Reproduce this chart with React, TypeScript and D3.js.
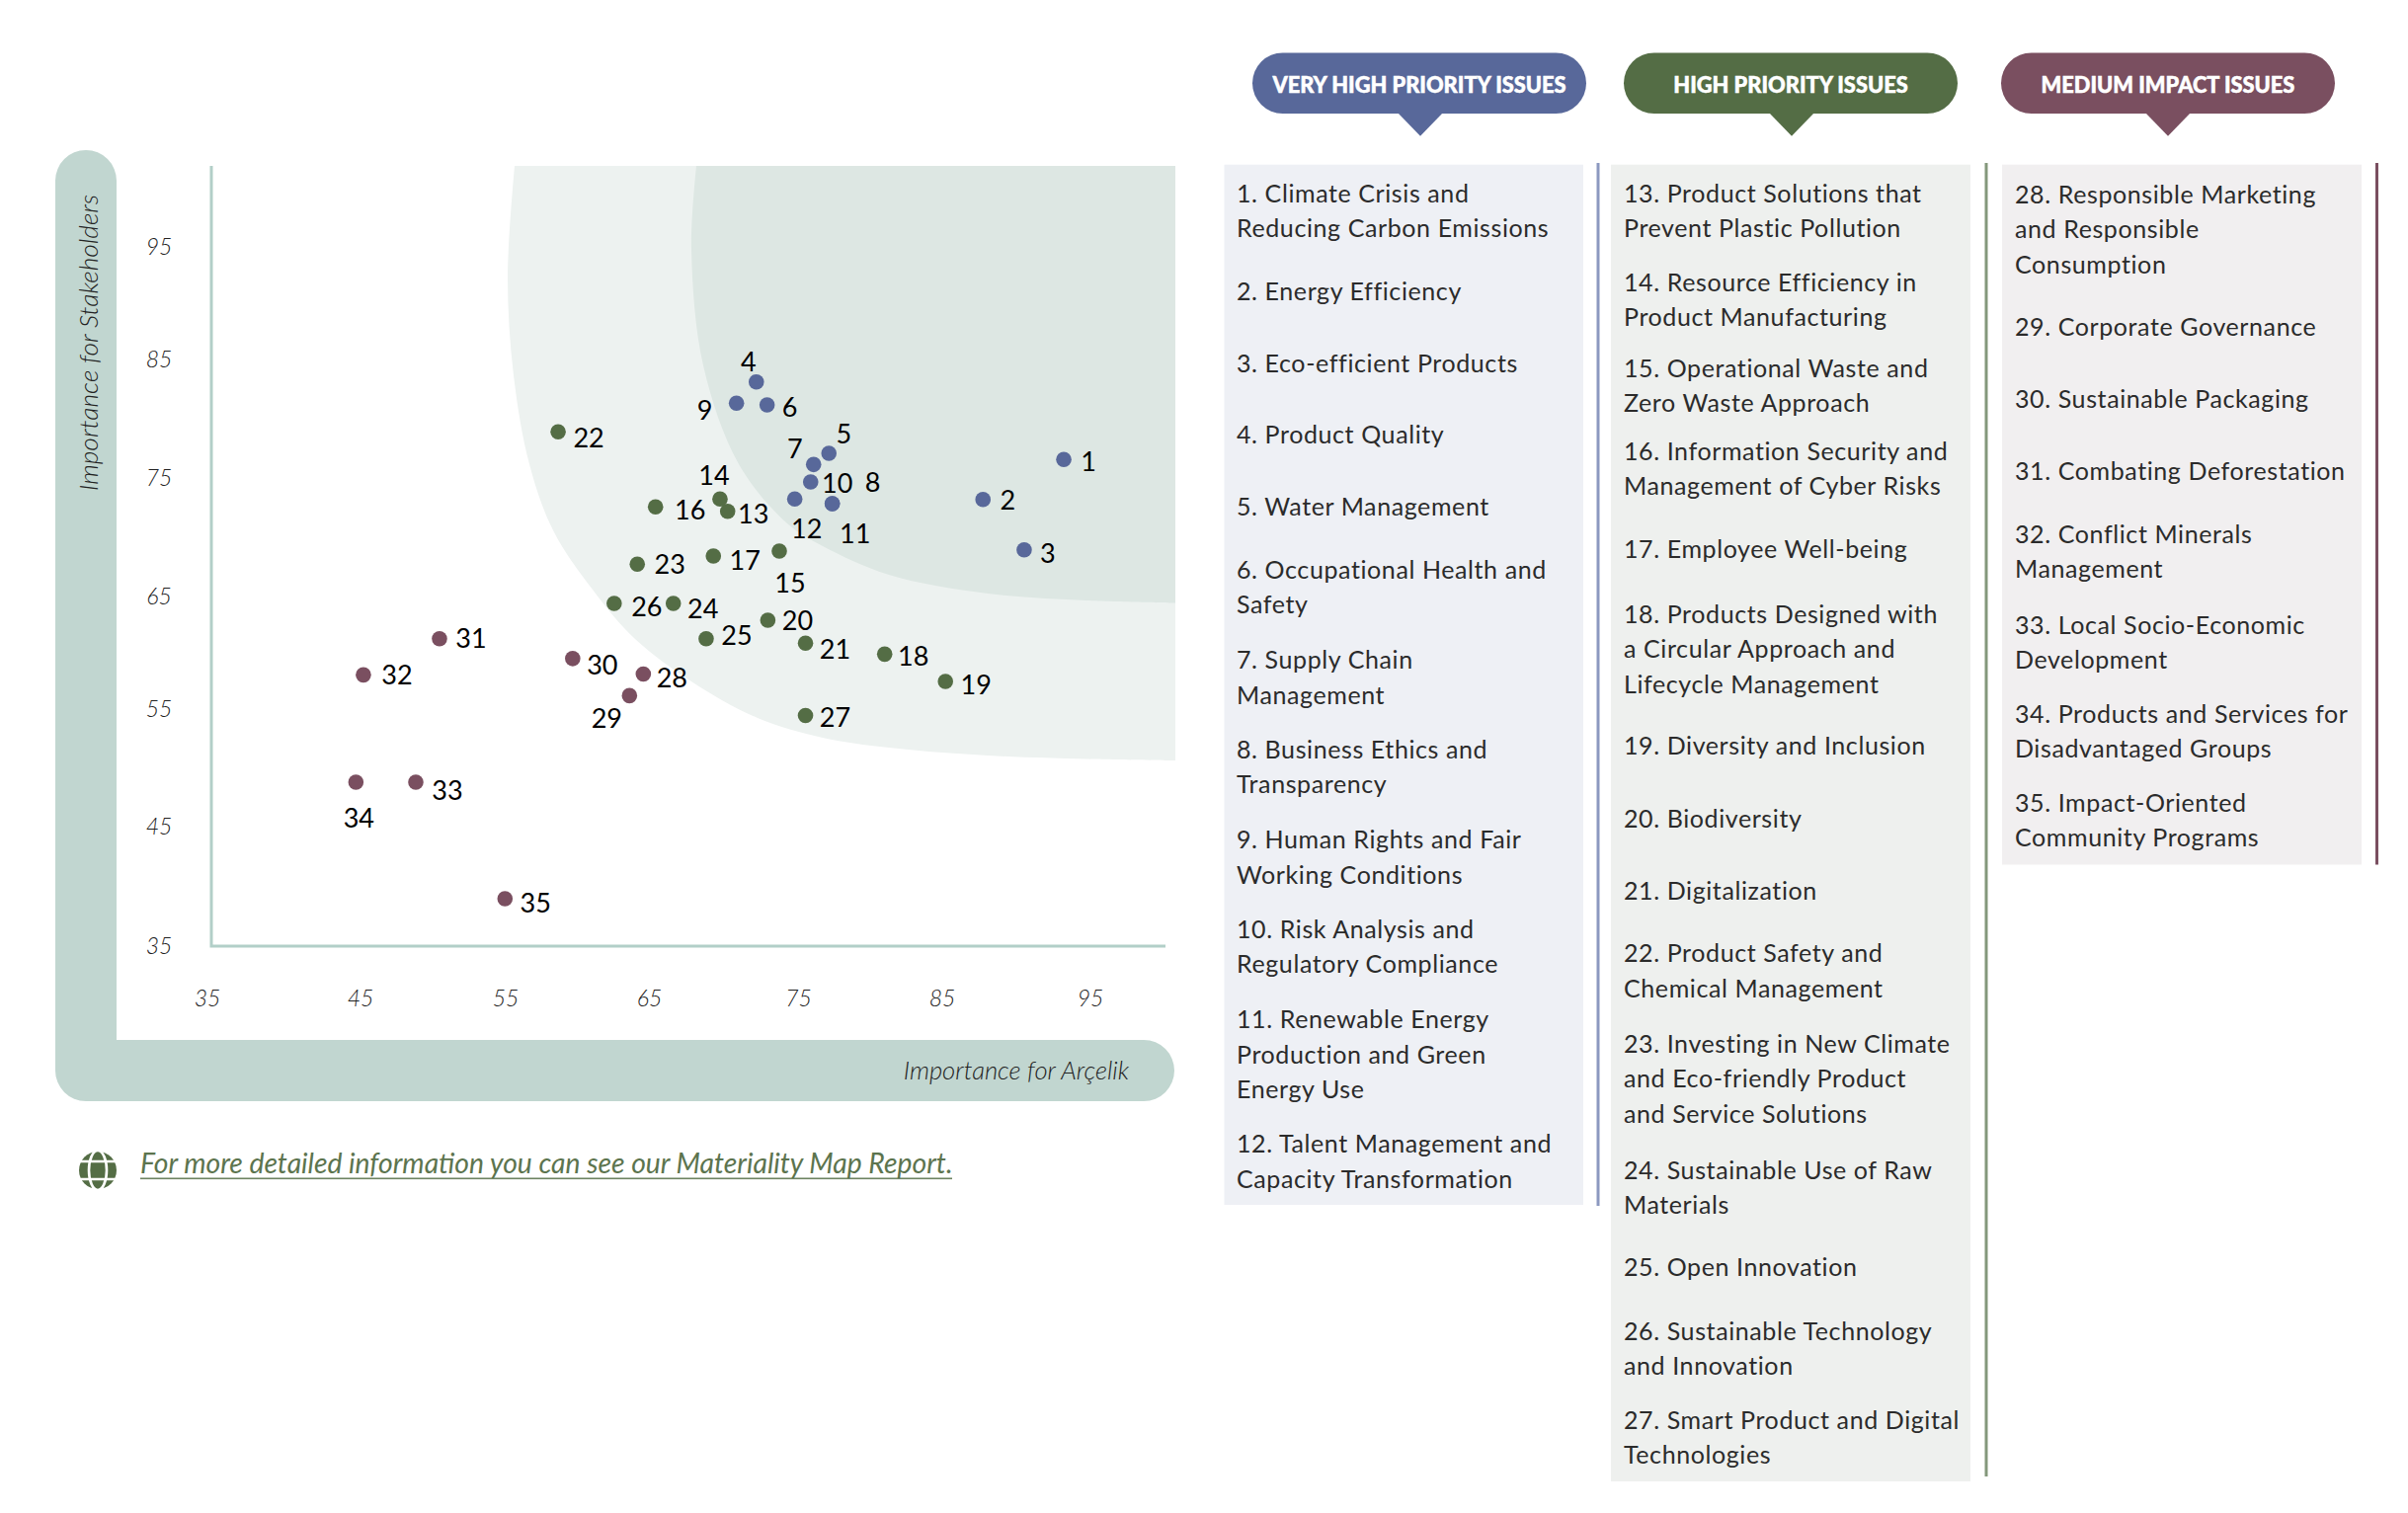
import React from "react";
import * as d3 from "d3";

const tickValues = [35, 45, 55, 65, 75, 85, 95];
const veryHighIds = [1,2,3,4,5,6,7,8,9,10,11,12];
const highIds = [13,14,15,16,17,18,19,20,21,22,23,24,25,26,27];
const mediumIds = [28,29,30,31,32,33,34,35];
const arcelikScores = [93.19,87.70,90.50,72.30,77.23,73.03,76.19,77.46,70.95,75.99,77.46,74.91,70.35,69.83,73.86,65.45,69.38,81.02,85.15,73.08,75.64,58.83,64.21,66.66,68.89,62.64,75.64,64.62,63.68,59.82,50.77,45.60,49.16,45.09,55.22];
const stakeholderScores = [76.64,73.21,68.89,83.30,77.17,81.32,76.21,72.85,81.47,74.71,72.85,73.25,72.20,73.25,68.78,72.57,68.36,59.94,57.60,62.85,60.88,79.01,67.66,64.29,61.26,64.29,54.67,58.23,56.38,59.56,61.26,58.16,48.96,48.96,38.96];

const veryHighIssues = [
  ["1. Climate Crisis and","Reducing Carbon Emissions"],["2. Energy Efficiency"],["3. Eco-efficient Products"],["4. Product Quality"],["5. Water Management"],
  ["6. Occupational Health and","Safety"],["7. Supply Chain","Management"],["8. Business Ethics and","Transparency"],["9. Human Rights and Fair","Working Conditions"],
  ["10. Risk Analysis and","Regulatory Compliance"],["11. Renewable Energy","Production and Green","Energy Use"],["12. Talent Management and","Capacity Transformation"],
];
const highIssues = [
  ["13. Product Solutions that","Prevent Plastic Pollution"],["14. Resource Efficiency in","Product Manufacturing"],["15. Operational Waste and","Zero Waste Approach"],
  ["16. Information Security and","Management of Cyber Risks"],["17. Employee Well-being"],["18. Products Designed with","a Circular Approach and","Lifecycle Management"],
  ["19. Diversity and Inclusion"],["20. Biodiversity"],["21. Digitalization"],["22. Product Safety and","Chemical Management"],
  ["23. Investing in New Climate","and Eco-friendly Product","and Service Solutions"],["24. Sustainable Use of Raw","Materials"],["25. Open Innovation"],
  ["26. Sustainable Technology","and Innovation"],["27. Smart Product and Digital","Technologies"],
];
const mediumIssues = [
  ["28. Responsible Marketing","and Responsible","Consumption"],["29. Corporate Governance"],["30. Sustainable Packaging"],["31. Combating Deforestation"],
  ["32. Conflict Minerals","Management"],["33. Local Socio-Economic","Development"],["34. Products and Services for","Disadvantaged Groups"],["35. Impact-Oriented","Community Programs"],
];
const headings = ["VERY HIGH PRIORITY ISSUES","HIGH PRIORITY ISSUES","MEDIUM IMPACT ISSUES"];

// layout, separate from the data
const veryHighRows = [194.5,294,367,438.5,511.5,575.5,667,757.5,849,939.5,1031,1157];
const highRows = [194.5,284.5,371.5,455.5,555,620.5,754,827.5,900.5,964,1055.5,1183.5,1281.5,1346.5,1436.5];
const mediumRows = [195.5,329.5,402.5,475.5,539.5,631.5,721.5,811.5];
const labelOffsets: [number,number][] = [[25,1],[25,0],[24,3],[-8,-21],[15,-21],[23,1],[-19,-17],[41,-23],[-32,6],[27,0],[23,29],[12,29],[26,2],[-6,-25],[11,31],[35,2],[32,4],[29,1],[31,3],[30,-1],[30,5],[31,5],[33,-1],[30,4],[31,-4],[33,2],[30,1],[29,3],[-23,22],[30,6],[32,-1],[34,-1],[32,8],[3,36],[31,4]];
const outerEdge: [number,number][] = [[521,168],[514,280],[520,380],[536,470],[560,537],[600,597],[643,647],[700,690],[767,727],[833,747],[900,757],[1000,765],[1100,768.5],[1190,770]];
const innerEdge: [number,number][] = [[705,168],[700,252],[712,370],[748,470],[797,530],[833,553],[900,582],[1000,601],[1100,608],[1190,610.5]];

const BLUE = "#58689a", GREEN = "#546d45", MAROON = "#7a4f60", BAND = "#c1d6d0", FONT = "Lato, sans-serif";

const x = d3.scaleLinear().domain([35,95]).range([210,1104]);
const y = d3.scaleLinear().domain([35,95]).range([956.7,248.6]);
const xTick = d3.scaleLinear().domain(tickValues).range([210,365,512,657.6,808.5,954,1104]);
const yTick = d3.scaleLinear().domain(tickValues).range([956.7,836,717,603,483,363,248.6]);
const curve = d3.line().curve(d3.curveCatmullRom.alpha(0.5));
const zone = (edge: [number,number][]) => curve(edge) + "L1190,168Z";
const colorOf = (id: number) => veryHighIds.includes(id) ? BLUE : highIds.includes(id) ? GREEN : MAROON;

const columns = [
  { issues: veryHighIssues, rows: veryHighRows, px: 1239.5, w: 363.5, bottom: 1220, tx: 1252, lineX: 1618, lineEnd: 1221, color: BLUE, panel: "#eef0f5", rule: "#8c99c0", bx: 1268, tip: 1438 },
  { issues: highIssues, rows: highRows, px: 1631, w: 364, bottom: 1500, tx: 1644, lineX: 2011, lineEnd: 1495, color: GREEN, panel: "#eef0ee", rule: "#84987b", bx: 1644, tip: 1814 },
  { issues: mediumIssues, rows: mediumRows, px: 2027, w: 364, bottom: 875.5, tx: 2040, lineX: 2406.5, lineEnd: 875.5, color: MAROON, panel: "#f1eff0", rule: "#7a4f60", bx: 2026, tip: 2195 },
];

export default function App() {
  return (
    <svg width={2438} height={1532} viewBox="0 0 2438 1532" style={{position:"absolute",left:0,top:0,display:"block",background:"#fff"}} fontFamily={FONT}>
      <path d={zone(outerEdge)!} fill="#edf2f0" />
      <path d={zone(innerEdge)!} fill="#dde7e3" />
      <path d="M56,183 a31,31 0 0 1 62,0 V1053 H1158 a31,31 0 0 1 0,62 H87 a31,31 0 0 1 -31,-31 Z" fill={BAND} />
      <path d="M214,168 V958 H1180" fill="none" stroke="#b2cfc8" strokeWidth={3} />
      <text transform="translate(89,347) rotate(-90)" textAnchor="middle" dominantBaseline="central" fontStyle="italic" fontWeight={300} fontSize={26.4} fill="#222">Importance for Stakeholders</text>
      <text x={1143} y={1083} textAnchor="end" dominantBaseline="central" fontStyle="italic" fontWeight={300} fontSize={25.6} fill="#222">Importance for Arçelik</text>
      {tickValues.map(t => <text key={"y"+t} x={161} y={yTick(t)} textAnchor="middle" dominantBaseline="central" fontStyle="italic" fontWeight={300} fontSize={23} fill="#222">{t}</text>)}
      {tickValues.map(t => <text key={"x"+t} x={xTick(t)} y={1010} textAnchor="middle" dominantBaseline="central" fontStyle="italic" fontWeight={300} fontSize={23} fill="#222">{t}</text>)}
      {arcelikScores.map((v,i) => <circle key={i} cx={x(v)} cy={y(stakeholderScores[i])} r={7.8} fill={colorOf(i+1)} />)}
      {arcelikScores.map((v,i) => <text key={i} x={x(v)+labelOffsets[i][0]} y={y(stakeholderScores[i])+labelOffsets[i][1]} textAnchor="middle" dominantBaseline="central" fontSize={27} fill="#000">{i+1}</text>)}

      <g>
        <circle cx={99} cy={1185} r={19} fill={GREEN} />
        <g fill="none" stroke="#fff" strokeWidth={2.6}>
          <ellipse cx={99} cy={1185} rx={9} ry={20} />
          <path d="M78,1176 H120 M78,1194 H120" />
        </g>
      </g>
      <text x={142} y={1188} fontStyle="italic" fontSize={28.3} fill={GREEN} opacity={0.95}>For more detailed information you can see our Materiality Map Report.</text>
      <rect x={142} y={1192.5} width={822} height={1.6} fill={GREEN} opacity={0.85} />

      {columns.map((c,ci) => (
        <g key={ci}>
          <rect x={c.px} y={166.7} width={c.w} height={c.bottom-166.7} fill={c.panel} />
          <rect x={c.lineX-1.5} y={165} width={3} height={c.lineEnd-165} fill={c.rule} />
          <rect x={c.bx} y={53.5} width={338} height={61.5} rx={30.7} fill={c.color} />
          <path d={`M${c.tip-23},114 L${c.tip},137.7 L${c.tip+23},114 Z`} fill={c.color} />
          <text x={c.bx+169} y={85} textAnchor="middle" dominantBaseline="central" fontWeight={900} fontSize={21.8} stroke="#fff" strokeWidth={0.5} fill="#fff">{headings[ci]}</text>
          {c.issues.map((lines,i) => lines.map((ln,j) => (
            <text key={i+"-"+j} x={c.tx} y={c.rows[i]+j*35.5} dominantBaseline="central" fontSize={25} letterSpacing={0.6} fill="#2b2b2b">{ln}</text>
          )))}
        </g>
      ))}
    </svg>
  );
}
